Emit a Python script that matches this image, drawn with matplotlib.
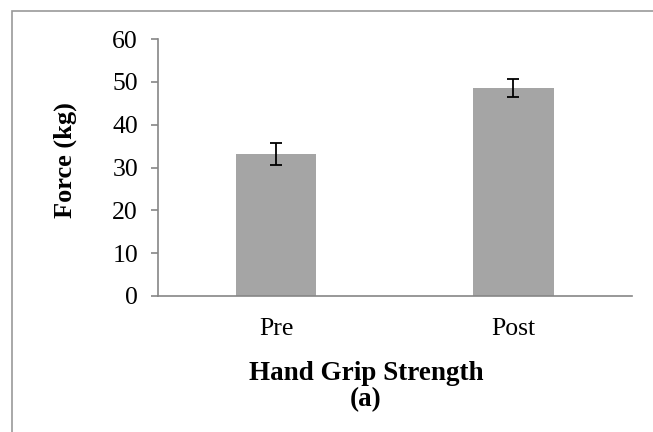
import matplotlib
matplotlib.use("Agg")
import matplotlib.pyplot as plt
from matplotlib.patches import Rectangle

categories = ["Pre", "Post"]
values = [33.1, 48.5]
errors = [2.6, 2.05]
y_ticks = [0, 10, 20, 30, 40, 50, 60]

plt.rcParams['font.family'] = ['Liberation Serif', 'DejaVu Serif']

fig = plt.figure(figsize=(6.53, 4.32), dpi=100)
ax = fig.add_axes([157.5/653, 1-296/432, (632-157.5)/653, (296-39)/432])

x = list(range(len(categories)))
ax.bar(x, values, width=0.34, color='#A5A5A5', zorder=2)
ax.errorbar(x, values, yerr=errors, fmt='none', ecolor='black', elinewidth=1.3,
            capsize=4.5, capthick=1.3, zorder=3)

ax.set_xlim(-0.5, 1.5)
ax.set_ylim(0, 60)
ax.set_yticks(y_ticks)
ax.set_yticklabels([str(t) for t in y_ticks], fontsize=18.5)
ax.set_xticks(x)
ax.set_xticklabels(categories, fontsize=18.5)
ax.tick_params(axis='x', length=0, pad=16)
ax.tick_params(axis='y', length=5, color='#868686', width=1.2, pad=9)
for s in ['top', 'right']:
    ax.spines[s].set_visible(False)
for s in ['left', 'bottom']:
    ax.spines[s].set_color('#868686')
    ax.spines[s].set_linewidth(1.2)

fig.text(65/653, 1-160/432, "Force (kg)", rotation=90, ha='center', va='center',
         fontsize=19, fontweight='bold')

fig.text(366/653, 1-373/432, "Hand Grip Strength", ha='center', va='center',
         fontsize=19.5, fontweight='bold')
fig.text(366/653, 1-400/432, "(a)", ha='center', va='center',
         fontsize=19.5, fontweight='bold')

fig.patches.append(Rectangle((12/653, -0.1), 1.0, 1-11/432+0.1, transform=fig.transFigure,
                             fill=False, edgecolor='#999999', linewidth=1.2))

fig.savefig("out.png", dpi=100)
